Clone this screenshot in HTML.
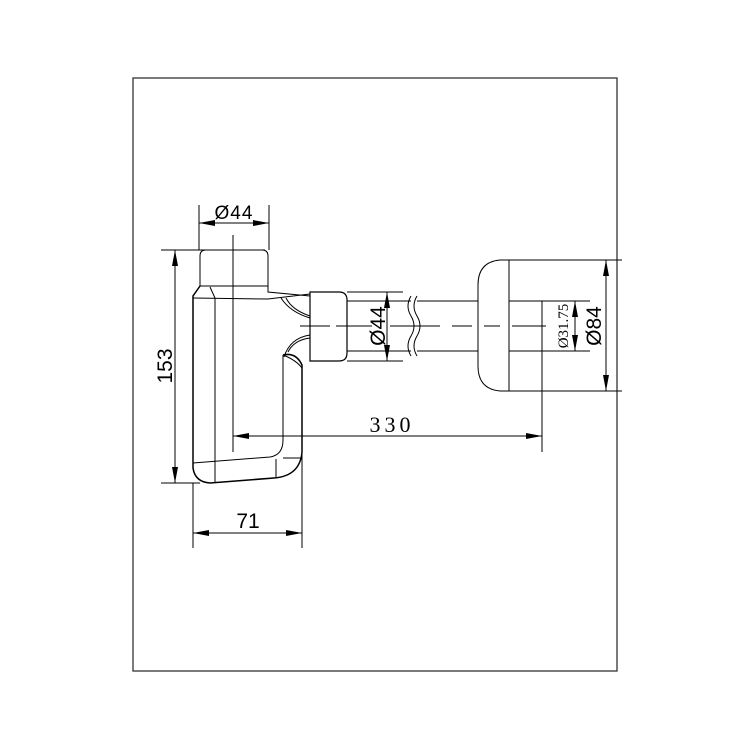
<!DOCTYPE html>
<html><head><meta charset="utf-8"><style>html,body{margin:0;padding:0;background:#fff}svg{display:block}</style></head>
<body>
<svg width="750" height="750" viewBox="0 0 750 750" xmlns="http://www.w3.org/2000/svg">
<defs>
<marker id="a" viewBox="0 0 16 6" refX="16" refY="3" markerWidth="16" markerHeight="6" orient="auto-start-reverse" markerUnits="userSpaceOnUse"><path d="M0,0 L16,3 L0,6 Z" fill="#000"/></marker>
</defs>
<rect x="133" y="78" width="484" height="593" fill="none" stroke="#333" stroke-width="1.3"/>
<g fill="none" stroke="#000" stroke-width="1">
<path d="M206,250 H262 Q268,250 268,256 V286 H200 V256 Q200,250 206,250 Z"/>
<path d="M200,286 L193,296 V468 Q195,482 210,483 L274,478 Q300,476 302,452 V365 Q296,352 283,355" stroke-width="1.5"/>
<path d="M268,286 V292 L310,296"/>
<path d="M193,298 L268,299 L310,294"/>
<path d="M210,287 L215,298 V483"/>
<path d="M283,355 V440 Q283,455 270,457 L193,463"/>
<path d="M276,459 V478"/>
<path d="M283,458 H302"/>
<path d="M281,298 Q290,312 310,318"/>
<path d="M286,298 Q292,310 310,316"/>
<path d="M284,357 Q290,338 310,335"/>
<path d="M288,352 Q294,340 310,338"/>
<path d="M283,355 Q296,360 302,368"/>
<path d="M310,292 H339 Q347,292 347,300 V353 Q347,361 339,361 H310 Z" stroke-width="1.2"/>
<path d="M347,301 H411 M347,351 H411 M417,301 H478 M417,351 H478"/>
<path d="M411,296 Q405,306 411,316 Q417,326 411,336 Q405,346 411,356"/>
<path d="M417,296 Q411,306 417,316 Q423,326 417,336 Q411,346 417,356"/>
<path d="M509,260 H500 Q478,262 478,285 V366 Q478,389 500,391 H509 Z"/>
<path d="M509,301 H590 M509,351 H590"/>
<path d="M233,235 V452"/>
<path d="M300,326 H330 M336,326 H372 M390,326 H440 M452,326 H472 M484,326 H500 M512,326 H546"/>
<path d="M199,205 V250 M269,205 V250"/>
<path d="M199,223 H269" marker-start="url(#a)" marker-end="url(#a)"/>
<path d="M161,250 H265 M161,483 H200"/>
<path d="M175,250 V483" marker-start="url(#a)" marker-end="url(#a)"/>
<path d="M193,483 V548 M302,452 V548"/>
<path d="M193,533 H302" marker-start="url(#a)" marker-end="url(#a)"/>
<path d="M542,301 V452"/>
<path d="M233,436 H542" marker-start="url(#a)" marker-end="url(#a)"/>
<path d="M347,292 H403 M347,361 H403"/>
<path d="M387,292 V361" marker-start="url(#a)" marker-end="url(#a)"/>
<path d="M575,301 V351" marker-start="url(#a)" marker-end="url(#a)"/>
<path d="M509,260 H622 M509,391 H622"/>
<path d="M606,260 V391" marker-start="url(#a)" marker-end="url(#a)"/>
</g>
<g font-family="Liberation Sans, sans-serif" fill="#000">
<text x="234" y="219" font-size="19" text-anchor="middle" letter-spacing="1">Ø44</text>
<text x="174" y="366" font-size="21" text-anchor="middle" transform="rotate(-90 174 366)" dy="-2">153</text>
<text x="248" y="528" font-size="21" text-anchor="middle">71</text>
<text x="392" y="432" font-size="22" text-anchor="middle" font-family="Liberation Serif, serif" letter-spacing="4">330</text>
<text x="378" y="326" font-size="21" text-anchor="middle" transform="rotate(-90 378 326)" dy="7">Ø44</text>
<text x="563" y="326" font-size="15" text-anchor="middle" font-family="Liberation Serif, serif" transform="rotate(-90 563 326)" dy="5">Ø31.75</text>
<text x="594" y="326" font-size="21" text-anchor="middle" transform="rotate(-90 594 326)" dy="7">Ø84</text>
</g>
</svg>
</body></html>
